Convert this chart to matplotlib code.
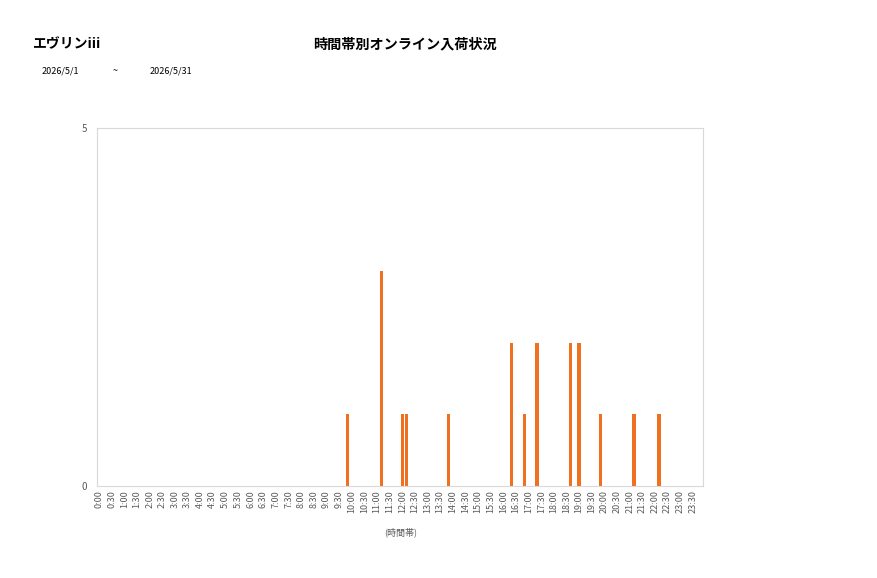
import matplotlib.pyplot as plt

plt.rcParams['font.family'] = ['Noto Sans CJK JP', 'DejaVu Sans']

# 10分刻みの時間帯
slots = ['%d:%02d' % (h, m) for h in range(24) for m in (0, 10, 20, 30, 40, 50)]

# 入荷のあった時間帯と件数
arrival_times = ['9:50', '11:10', '12:00', '12:10', '13:50', '16:20', '16:50',
                 '17:20', '18:40', '19:00', '19:50', '21:10', '22:10']
arrival_counts = [1, 3, 1, 1, 1, 2, 1, 2, 2, 2, 1, 1, 1]

shop_name = 'エヴリンiii'
chart_title = '時間帯別オンライン入荷状況'
date_from = '2026/5/1'
date_to = '2026/5/31'

count_map = dict(zip(arrival_times, arrival_counts))
values = [count_map.get(s, 0) for s in slots]

fig = plt.figure(figsize=(8.77, 5.78), dpi=100)
ax = fig.add_axes([0.1106, 0.1592, 0.6914, 0.6198])

ax.bar(range(len(slots)), values, width=0.8, color='#F07022')

ax.set_xlim(-0.5, len(slots) - 0.5)
ax.set_ylim(0, 5)
ax.set_yticks([0, 5])
ax.set_xticks(range(0, len(slots), 3))
ax.set_xticklabels(slots[::3], rotation=90, fontsize=6.5, color='#595959')
ax.tick_params(axis='both', length=0, pad=3)
ax.tick_params(axis='y', labelsize=7, colors='#595959', pad=7)
for sp in ax.spines.values():
    sp.set_color('#D9D9D9')
    sp.set_linewidth(0.8)

ax.set_xlabel('(時間帯)', fontsize=6.5, color='#595959', labelpad=10)

fig.text(33 / 877, 1 - 44 / 578, shop_name, fontsize=10, fontweight='bold', va='center', ha='left')
fig.text(405 / 877, 1 - 44 / 578, chart_title, fontsize=10.2, fontweight='bold', va='center', ha='center')
fig.text(42 / 877, 1 - 71 / 578, date_from, fontsize=6.5, va='center', ha='left')
fig.text(113 / 877, 1 - 71 / 578, '~', fontsize=6.5, va='center', ha='left')
fig.text(150 / 877, 1 - 71 / 578, date_to, fontsize=6.5, va='center', ha='left')

plt.savefig('out.png', dpi=100)
